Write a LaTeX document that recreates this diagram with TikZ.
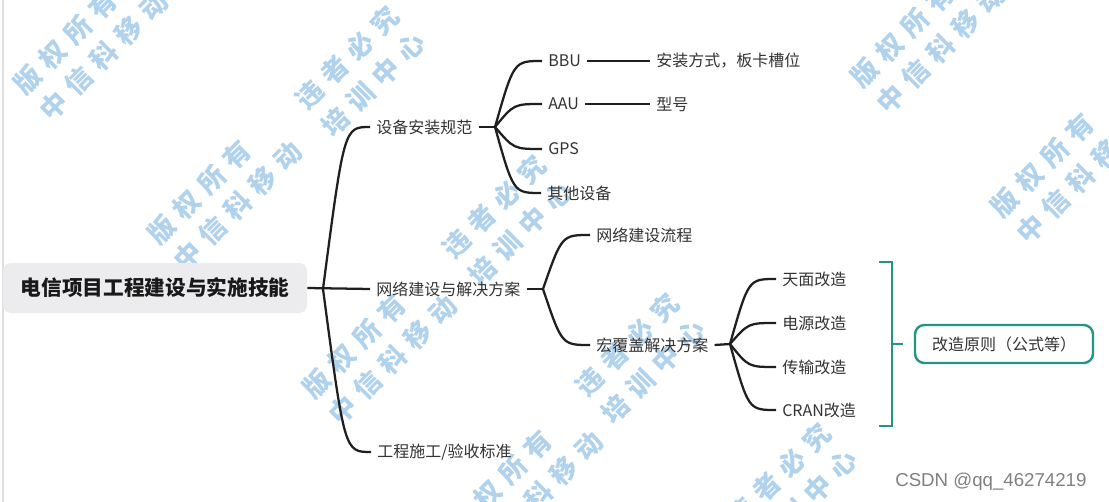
\documentclass[tikz,border=0pt]{standalone}
\usepackage{fontspec}
\setmainfont{Noto Sans CJK SC}
\newfontfamily\csdnfont{Liberation Sans}
\usetikzlibrary{calc}

\definecolor{wmblue}{RGB}{176,210,236}
\definecolor{txtgray}{RGB}{51,51,51}
\definecolor{rootgray}{RGB}{236,236,238}
\definecolor{ruleteal}{RGB}{38,148,132}

\newcommand\wmfont{\fontsize{20}{28}\selectfont\bfseries}
\newcommand\wsp{\hspace{6.5pt}}

\tikzset{
  central/.style={fill=rootgray, rounded corners=6pt, minimum width=228pt, minimum height=37.5pt,
    inner sep=0pt, text=black!90, font=\fontsize{15.5}{18}\selectfont\bfseries},
  topic/.style={anchor=west, inner xsep=4.5pt, inner ysep=0pt, text=txtgray, font=\fontsize{12}{14}\selectfont},
  branch/.style={line width=1.7pt, draw=black!88},
  twig/.style={to path={let \p1=(\tikztostart), \p2=(\tikztotarget) in
    .. controls ({\x1+#1*(\x2-\x1)},\y2) .. (\tikztotarget)}},
  twig/.default=0.4,
  brace/.style={line width=1.8pt, draw=ruleteal},
  rulebox/.style={draw=ruleteal, line width=1.8pt, rounded corners=7pt, minimum width=133.5pt,
    minimum height=28.5pt, inner sep=0pt, text=txtgray, font=\fontsize{12}{14}\selectfont},
  wm/.style={rotate=45, align=left, text=wmblue, inner sep=0pt, font=\wmfont},
}

\begin{document}
\begin{tikzpicture}[x=0.75pt, y=-0.75pt]

\path[fill=white, use as bounding box] (0,0) rectangle (1109,502);
\draw[black!12, line width=1pt] (3,0) -- (3,502);

% watermarks
\foreach \x/\y [count=\i] in {91/43, 225/193, 380/347, 928/36, 1068/166, 526/483}
  \node[wm] (wa\i) at (\x,\y) {版\wsp 权\wsp 所\wsp 有\\中\wsp 信\wsp 科\wsp 移\wsp 动};
\foreach \x/\y [count=\i] in {360/71, 507/220, 640/358, 792/488}
  \node[wm] (wb\i) at (\x,\y) {违\wsp 者\wsp 必\wsp 究\\培\wsp 训\wsp 中\wsp 心};

% topics
\node[central] (root) at (155,288) {电信项目工程建设与实施技能};

\node[topic] (eq)    at (370,127) {设备安装规范};
\node[topic] (net)   at (370,289) {网络建设与解决方案};
\node[topic] (build) at (371,452) {工程施工/验收标准};

\node[topic] (bbu)   at (542,61)  {BBU};
\node[topic] (aau)   at (542,104) {AAU};
\node[topic] (gps)   at (542,149) {GPS};
\node[topic] (other) at (541,193) {其他设备};
\node[topic] (mount) at (650,61)  {安装方式，板卡槽位};
\node[topic] (model) at (650,104) {型号};

\node[topic] (flow)  at (590,235) {网络建设流程};
\node[topic] (macro) at (590,345) {宏覆盖解决方案};

\node[topic] (roof)  at (776,279) {天面改造};
\node[topic] (power) at (776,323) {电源改造};
\node[topic] (trans) at (776,367) {传输改造};
\node[topic] (cran)  at (776,410) {CRAN改造};

\node[rulebox] (rule) at (1004,344) {改造原则（公式等）};

% junctions
\coordinate (j0) at (323,289);
\coordinate (j1) at (495,127);
\coordinate (j2) at (543,289);
\coordinate (j3) at (730,344);

\draw[branch] (root.east) -- (net.west);
\draw[branch] (j0) to[twig=0.45] (eq.west);
\draw[branch] (j0) to[twig=0.45] (build.west);

\draw[branch] (eq.east) -- (j1);
\foreach \kid in {bbu,aau,gps,other}
  \draw[branch] (j1) to[twig] (\kid.west);
\draw[branch] (bbu.east) -- (mount.west);
\draw[branch] (aau.east) -- (model.west);

\draw[branch] (net.east) -- (j2);
\foreach \kid in {flow,macro}
  \draw[branch] (j2) to[twig] (\kid.west);

\draw[branch] (macro.east) -- (j3);
\foreach \kid in {roof,power,trans,cran}
  \draw[branch] (j3) to[twig] (\kid.west);

% summary bracket
\coordinate (bt) at (879,262);
\coordinate (bb) at (879,426);
\coordinate (bm) at (892,344);
\coordinate (bx) at (903,344);
\draw[brace] (bt) -- ++(13,0) |- (bb);
\draw[brace] (bm) -- (bx);

\node[anchor=west, inner sep=0pt, text=black!50, font=\csdnfont\fontsize{14}{16}\selectfont]
  (csdn) at (895,482) {CSDN @qq\_46274219};

\end{tikzpicture}
\end{document}
